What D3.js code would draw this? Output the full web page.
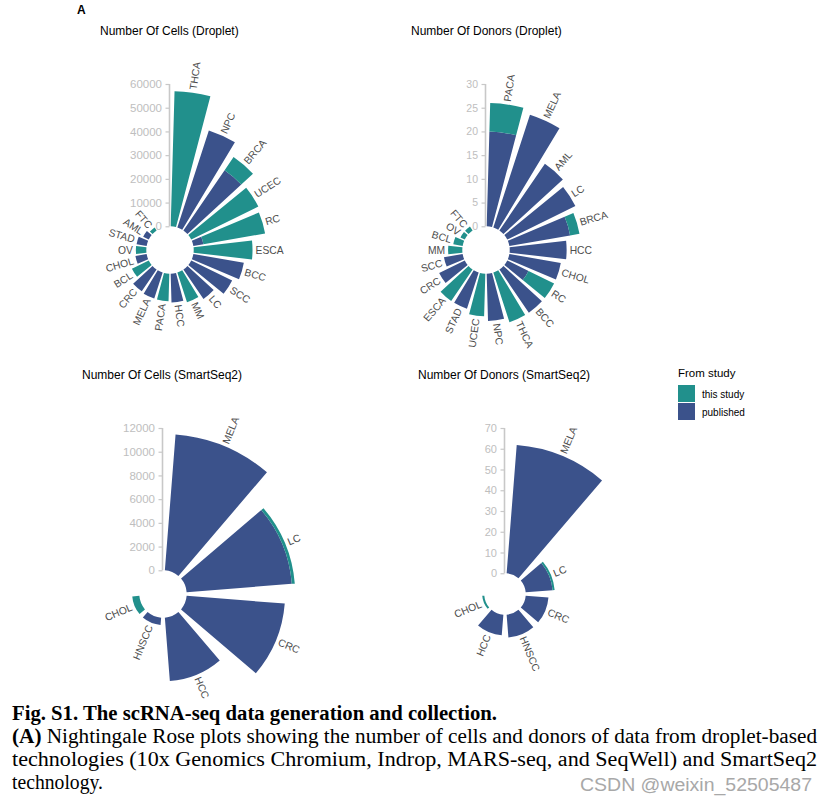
<!DOCTYPE html>
<html><head><meta charset="utf-8">
<script src="https://cdn.jsdelivr.net/npm/d3@7"></script>
<style>body{margin:0;background:#fff} svg{display:block}</style>
</head><body>
<svg id="chart" width="824" height="807"></svg>
<script>
// ---------- data ----------
const seriesKeys = ["published", "this study"];
const legendLabels = ["this study", "published"];

const cellsDropletCategories = ["THCA","NPC","BRCA","UCEC","RC","ESCA","BCC","SCC","LC","MM","HCC","PACA","MELA","CRC","BCL","CHOL","OV","STAD","AML","FTC"];
const cellsDropletPublished  = [0, 43000, 30800, 0, 4300, 0, 21600, 19200, 15000, 0, 12100, 0, 11500, 11100, 0, 4800, 0, 4300, 2600, 0];
const cellsDropletThisStudy  = [57000, 0, 6700, 31500, 26400, 24800, 0, 0, 0, 13200, 0, 11600, 0, 0, 7900, 0, 4400, 0, 0, 1500];
const cellsDropletTicks = [0, 10000, 20000, 30000, 40000, 50000, 60000];

const donorsDropletCategories = ["PACA","MELA","AML","LC","BRCA","HCC","CHOL","RC","BCC","THCA","NPC","UCEC","STAD","ESCA","CRC","SCC","MM","BCL","OV","FTC"];
const donorsDropletPublished  = [20, 25, 17, 16, 13, 12, 11, 5, 11, 0, 10, 0, 8, 0, 6, 4, 0, 0, 0, 0];
const donorsDropletThisStudy  = [6, 0, 0, 0, 2, 0, 0, 6, 0, 11, 0, 9, 0, 8, 0, 0, 3, 2, 1, 1];
const donorsDropletTicks = [0, 5, 10, 15, 20, 25, 30];

const cellsSmartCategories = ["MELA","LC","CRC","HCC","HNSCC","CHOL"];
const cellsSmartPublished  = [11500, 8900, 8300, 5370, 620, 0];
const cellsSmartThisStudy  = [0, 250, 0, 0, 0, 600];
const cellsSmartTicks = [0, 2000, 4000, 6000, 8000, 10000, 12000];

const donorsSmartCategories = ["MELA","LC","CRC","HNSCC","HCC","CHOL"];
const donorsSmartPublished  = [62, 13, 11, 11, 10, 0];
const donorsSmartThisStudy  = [0, 1, 0, 0, 0, 1];
const donorsSmartTicks = [0, 10, 20, 30, 40, 50, 60, 70];

const titles = ["Number Of Cells (Droplet)", "Number Of Donors (Droplet)", "Number Of Cells (SmartSeq2)", "Number Of Donors (SmartSeq2)"];
const legendTitle = "From study";
const captionLines = [
  "Fig. S1. The scRNA-seq data generation and collection.",
  "Nightingale Rose plots showing the number of cells and donors of data from droplet-based",
  "technologies (10x Genomics Chromium, Indrop, MARS-seq, and SeqWell) and SmartSeq2",
  "technology."
];
const watermark = "CSDN @weixin_52505487";

// ---------- layout ----------
const color = d3.scaleOrdinal().domain(["this study","published"]).range(["#21908C","#3B528B"]);
const R = 166;
const svg = d3.select("#chart");
const sans = "'Liberation Sans', Arial, sans-serif";
const serif = "'Liberation Serif', 'Times New Roman', serif";

const panels = [
  {title: titles[0], cats: cellsDropletCategories, pub: cellsDropletPublished, study: cellsDropletThisStudy, ticks: cellsDropletTicks,
   yMin: -10000, yMax: 60000, cx: 170, cy: 250, tx: 100, ty: 35, tickFs: 11.5},
  {title: titles[1], cats: donorsDropletCategories, pub: donorsDropletPublished, study: donorsDropletThisStudy, ticks: donorsDropletTicks,
   yMin: -5, yMax: 30, cx: 486, cy: 250, tx: 411, ty: 35, tickFs: 10.5},
  {title: titles[2], cats: cellsSmartCategories, pub: cellsSmartPublished, study: cellsSmartThisStudy, ticks: cellsSmartTicks,
   yMin: -2000, yMax: 12000, cx: 163, cy: 594, tx: 82, ty: 379, tickFs: 11.5},
  {title: titles[3], cats: donorsSmartCategories, pub: donorsSmartPublished, study: donorsSmartThisStudy, ticks: donorsSmartTicks,
   yMin: -10, yMax: 70, cx: 505, cy: 594, tx: 418, ty: 379, tickFs: 11}
];

function drawPanel(p) {
  svg.append("text").attr("x", p.tx).attr("y", p.ty)
    .attr("font-family", sans).attr("font-size", 12).attr("fill", "#000").text(p.title);

  const g = svg.append("g").attr("transform", `translate(${p.cx},${p.cy})`);
  const n = p.cats.length;
  const x = d3.scaleBand().domain(p.cats)
    .range([0, 2 * Math.PI * n / (n + 2)])
    .paddingInner(0.2).paddingOuter(0.1);
  const y = d3.scaleLinear().domain([p.yMin, p.yMax]).range([0, R]);

  const rows = p.cats.map((c, i) => ({cat: c, "published": p.pub[i], "this study": p.study[i]}));
  const stacked = d3.stack().keys(seriesKeys)(rows);

  const arc = d3.arc()
    .innerRadius(d => y(d[0]))
    .outerRadius(d => y(d[1]))
    .startAngle(d => x(d.data.cat))
    .endAngle(d => x(d.data.cat) + x.bandwidth());

  g.selectAll("g.layer").data(stacked).join("g").attr("class", "layer")
    .attr("fill", d => color(d.key))
    .selectAll("path").data(d => d.filter(e => e[1] > e[0])).join("path")
    .attr("d", arc);

  // category labels
  rows.forEach(r => {
    const a = x(r.cat) + x.bandwidth() / 2;
    const deg = a * 180 / Math.PI;
    const rr = y(r["published"] + r["this study"]) + 3;
    const px = rr * Math.sin(a), py = -rr * Math.cos(a);
    const flip = deg > 180;
    g.append("text")
      .attr("transform", `translate(${px},${py}) rotate(${flip ? deg + 90 : deg - 90})`)
      .attr("text-anchor", flip ? "end" : "start")
      .attr("dominant-baseline", "central")
      .attr("font-family", sans).attr("font-size", 10.3).attr("fill", "#4D4D4D")
      .text(r.cat);
  });

  // radial axis
  const ya = d3.scaleLinear().domain([p.yMin, p.yMax]).range([0, -R]);
  const ax = g.append("g").attr("transform", "translate(-0.5,0)")
    .call(d3.axisLeft(ya).tickValues(p.ticks).tickSize(4).tickPadding(3.5).tickFormat(d3.format("d")));
  ax.select(".domain").remove();
  ax.selectAll(".tick line").attr("stroke", "#C8C8C8").attr("stroke-width", 1.2);
  ax.selectAll(".tick text").attr("fill", "#BEBEBE").attr("font-size", p.tickFs).attr("font-family", sans);
  ax.append("line").attr("x1", 0).attr("x2", 0)
    .attr("y1", ya(0)).attr("y2", ya(p.yMax))
    .attr("stroke", "#C8C8C8").attr("stroke-width", 1.6);
}

panels.forEach(drawPanel);

// panel letter
svg.append("text").attr("x", 77).attr("y", 13.5).attr("font-family", sans)
  .attr("font-weight", "bold").attr("font-size", 12).text("A");

// legend
const lg = svg.append("g").attr("transform", "translate(678,0)");
lg.append("text").attr("x", 0).attr("y", 377).attr("font-family", sans).attr("font-size", 11.5).text(legendTitle);
legendLabels.forEach((k, i) => {
  lg.append("rect").attr("x", 0).attr("y", 385 + i * 18).attr("width", 17).attr("height", 17).attr("fill", color(k));
  lg.append("text").attr("x", 24).attr("y", 394 + i * 18).attr("dominant-baseline", "central")
    .attr("font-family", sans).attr("font-size", 10).text(k);
});

// caption
svg.append("text").attr("x", 12).attr("y", 720).attr("font-family", serif).attr("font-weight", "bold")
  .attr("font-size", 20.5).attr("textLength", 485).attr("lengthAdjust", "spacingAndGlyphs").text(captionLines[0]);
const l2 = svg.append("text").attr("x", 12).attr("y", 743).attr("font-family", serif).attr("font-size", 20.5)
  .attr("textLength", 805).attr("lengthAdjust", "spacingAndGlyphs");
l2.append("tspan").attr("font-weight", "bold").text("(A) ");
l2.append("tspan").text(captionLines[1]);
svg.append("text").attr("x", 12).attr("y", 766).attr("font-family", serif).attr("font-size", 20.5)
  .attr("textLength", 805).attr("lengthAdjust", "spacingAndGlyphs").text(captionLines[2]);
svg.append("text").attr("x", 12).attr("y", 789).attr("font-family", serif).attr("font-size", 20.5)
  .attr("textLength", 91).attr("lengthAdjust", "spacingAndGlyphs").text(captionLines[3]);
svg.append("text").attr("x", 580).attr("y", 791).attr("font-family", sans).attr("font-size", 17.5)
  .attr("fill", "#A8A8A8").attr("textLength", 232).attr("lengthAdjust", "spacingAndGlyphs").text(watermark);
</script>
</body></html>
